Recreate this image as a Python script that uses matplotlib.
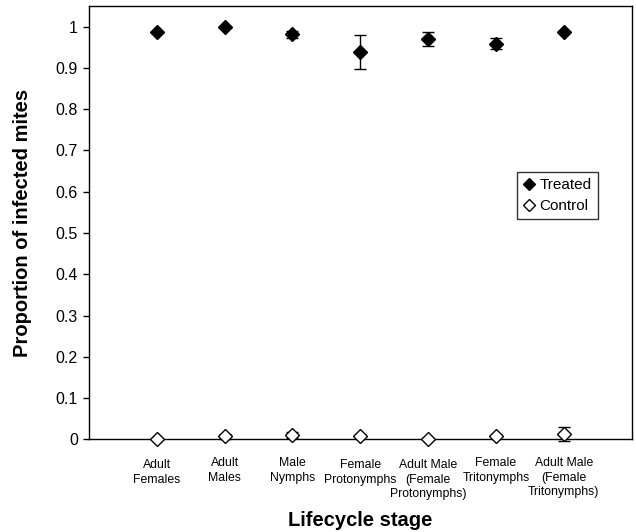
import numpy as np
import matplotlib
matplotlib.use('Agg')
import matplotlib.pyplot as plt
from matplotlib.lines import Line2D
from matplotlib.transforms import ScaledTranslation

plt.rcParams['font.family'] = ['Liberation Sans', 'DejaVu Sans']

# Data
stages = ['Adult\nFemales', 'Adult\nMales', 'Male\nNymphs', 'Female\nProtonymphs',
          'Adult Male\n(Female\nProtonymphs)', 'Female\nTritonymphs',
          'Adult Male\n(Female\nTritonymphs)']
treated = [0.987, 0.998, 0.981, 0.938, 0.970, 0.959, 0.986]
treated_err = [0.0, 0.0, 0.009, 0.041, 0.018, 0.013, 0.0]
control = [0.0, 0.008, 0.010, 0.008, 0.0, 0.008, 0.012]
control_err = [0.0, 0.006, 0.007, 0.0, 0.0, 0.0, 0.017]
yticks = [0, 0.1, 0.2, 0.3, 0.4, 0.5, 0.6, 0.7, 0.8, 0.9, 1]
ytick_labels = ['0', '0.1', '0.2', '0.3', '0.4', '0.5', '0.6', '0.7', '0.8', '0.9', '1']

fig = plt.figure(figsize=(6.36, 5.32), dpi=100)
ax = fig.add_axes([0.140, 0.1742, 0.853, 0.8145])

x = np.arange(1, len(stages) + 1)

# Treated (filled diamonds)
ax.errorbar(x, treated, yerr=treated_err, fmt='D', color='black', markersize=7.2,
            ecolor='black', elinewidth=1, capsize=4, capthick=1,
            zorder=3, clip_on=False)
# Control (open diamonds)
ax.errorbar(x, control, yerr=control_err, fmt='D', color='black', markersize=7.2,
            markerfacecolor='white', markeredgecolor='black', markeredgewidth=1,
            ecolor='black', elinewidth=1, capsize=4, capthick=1,
            zorder=3, clip_on=False)

ax.set_xlim(0, len(stages) + 1)
ax.set_ylim(0, 1.05)
ax.set_yticks(yticks)
ax.set_yticklabels(ytick_labels, fontsize=11.5)
ax.set_xticks(x)
ax.set_xticklabels(stages, fontsize=8.8, linespacing=1.25, va='top')
ax.tick_params(axis='x', length=0, pad=13)
ax.tick_params(axis='y', direction='out', length=4, width=1, pad=4)

# small vertical stagger of the category labels, as in the original
for i, lab in enumerate(ax.get_xticklabels()):
    if i in (0, 3, 4):
        lab.set_transform(lab.get_transform() + ScaledTranslation(0, -2 / 100, fig.dpi_scale_trans))

for s in ax.spines.values():
    s.set_linewidth(1)
    s.set_color('black')

ax.set_xlabel('Lifecycle stage', fontsize=14.5, fontweight='bold', labelpad=8)
ax.set_ylabel('Proportion of infected mites', fontsize=14.5, fontweight='bold', labelpad=17)

handles = [Line2D([], [], ls='none', marker='D', color='black', markersize=6),
           Line2D([], [], ls='none', marker='D', markerfacecolor='white',
                  markeredgecolor='black', markersize=6)]
leg = ax.legend(handles, ['Treated', 'Control'], loc='upper left',
                bbox_to_anchor=(0.8124, 0.6761), bbox_transform=fig.transFigure,
                borderaxespad=0, fontsize=11, frameon=True, fancybox=False,
                edgecolor='black', handlelength=0.8, handletextpad=0.3,
                borderpad=0.4, labelspacing=0.45)
leg.get_frame().set_linewidth(1)

fig.savefig('out.png', dpi=100)
